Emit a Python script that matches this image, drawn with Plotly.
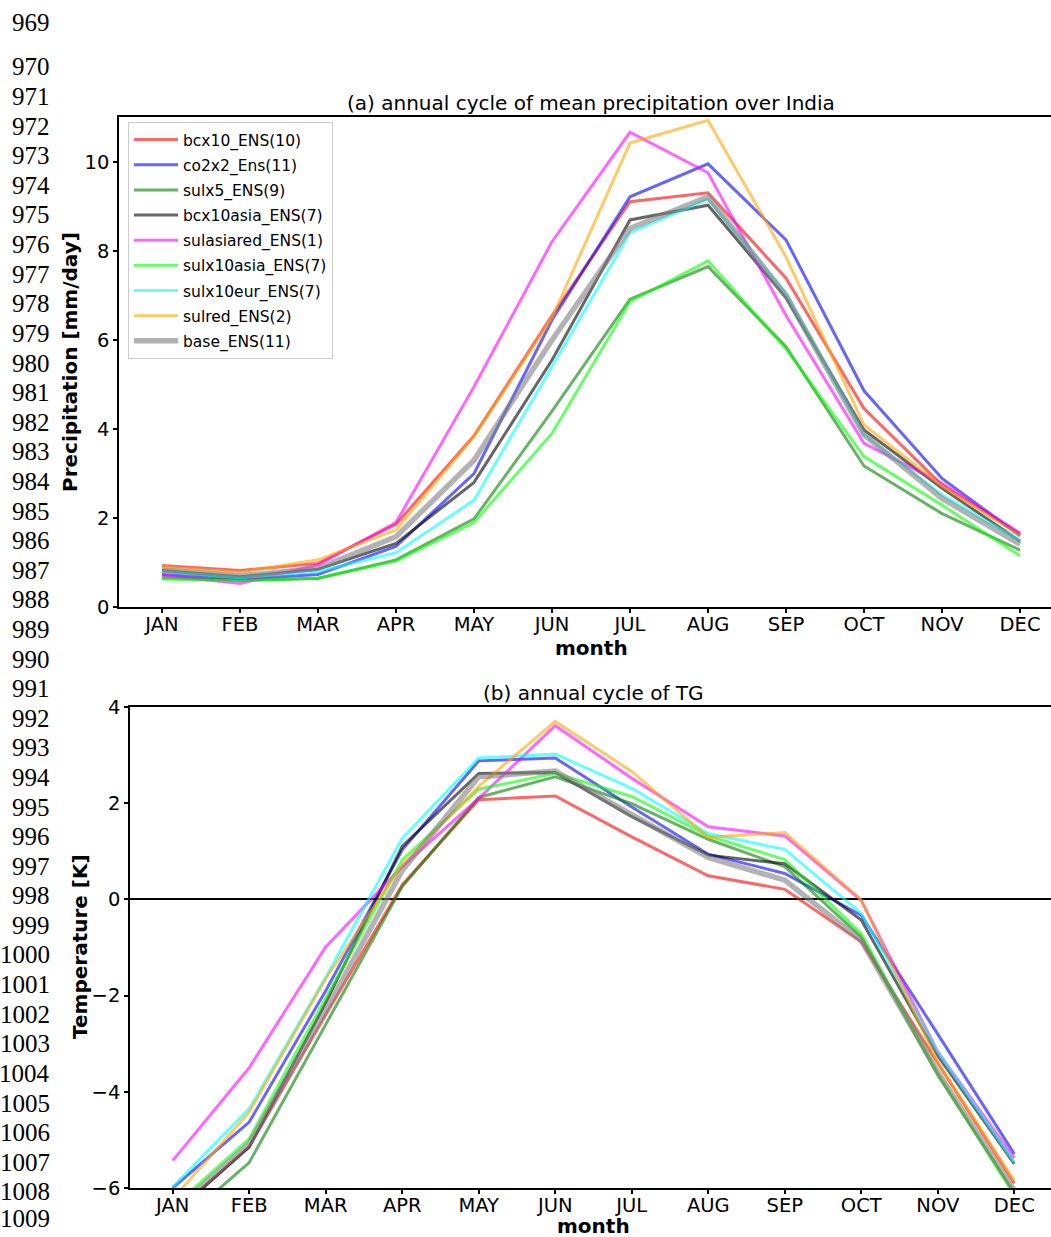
import plotly.graph_objects as go

# ---------------- data ----------------
months = ["JAN", "FEB", "MAR", "APR", "MAY", "JUN", "JUL", "AUG", "SEP", "OCT", "NOV", "DEC"]
month_idx = list(range(12))

names = ["bcx10_ENS(10)", "co2x2_Ens(11)", "sulx5_ENS(9)", "bcx10asia_ENS(7)",
         "sulasiared_ENS(1)", "sulx10asia_ENS(7)", "sulx10eur_ENS(7)", "sulred_ENS(2)", "base_ENS(11)"]

# (a) precipitation [mm/day]
pr_bcx10 = [0.93, 0.82, 0.98, 1.86, 3.85, 6.55, 9.11, 9.31, 7.39, 4.46, 2.74, 1.64]
pr_co2x2 = [0.73, 0.63, 0.73, 1.36, 3.00, 6.45, 9.22, 9.96, 8.25, 4.86, 2.89, 1.60]
pr_sulx5 = [0.66, 0.60, 0.64, 1.06, 1.98, 4.40, 6.92, 7.65, 5.85, 3.17, 2.10, 1.28]
pr_bcx10asia = [0.82, 0.68, 0.85, 1.43, 2.80, 5.55, 8.70, 9.03, 6.95, 3.98, 2.67, 1.48]
pr_sulasiared = [0.72, 0.53, 0.95, 1.90, 4.95, 8.21, 10.67, 9.76, 6.55, 3.68, 2.78, 1.66]
pr_sulx10asia = [0.63, 0.59, 0.65, 1.03, 1.90, 3.90, 6.86, 7.78, 5.80, 3.38, 2.29, 1.15]
pr_sulx10eur = [0.80, 0.66, 0.80, 1.22, 2.40, 5.40, 8.41, 9.17, 7.05, 3.87, 2.52, 1.49]
pr_sulred = [0.90, 0.78, 1.06, 1.73, 3.83, 6.50, 10.43, 10.94, 7.87, 4.09, 2.72, 1.60]
pr_base = [0.83, 0.70, 0.87, 1.58, 3.30, 6.00, 8.51, 9.22, 7.00, 3.87, 2.44, 1.41]

# (b) temperature TG [K]
tg_bcx10 = [-6.55, -5.14, -2.40, 0.30, 2.07, 2.15, 1.30, 0.49, 0.21, -0.88, -3.40, -5.90]
tg_co2x2 = [-6.00, -4.63, -1.90, 1.03, 2.88, 2.94, 1.92, 0.94, 0.54, -0.33, -2.80, -5.29]
tg_sulx5 = [-6.86, -5.47, -2.60, 0.27, 2.12, 2.55, 1.99, 1.25, 0.68, -0.78, -3.65, -6.10]
tg_bcx10asia = [-6.55, -5.15, -2.15, 1.10, 2.62, 2.64, 1.72, 0.92, 0.74, -0.43, -3.25, -5.50]
tg_sulasiared = [-5.43, -3.50, -0.99, 0.68, 2.10, 3.61, 2.52, 1.51, 1.32, -0.02, -3.17, -5.38]
tg_sulx10asia = [-6.40, -4.98, -2.05, 0.82, 2.29, 2.62, 2.14, 1.32, 0.83, -0.71, -3.62, -6.15]
tg_sulx10eur = [-5.98, -4.35, -1.62, 1.27, 2.94, 3.02, 2.31, 1.37, 1.04, -0.29, -3.17, -5.47]
tg_sulred = [-6.23, -4.42, -1.65, 0.72, 2.35, 3.70, 2.66, 1.29, 1.39, -0.01, -3.38, -5.85]
tg_base = [-6.50, -5.08, -2.31, 0.60, 2.55, 2.67, 1.76, 0.87, 0.40, -0.85, -3.59, -6.05]

pr_series = [pr_bcx10, pr_co2x2, pr_sulx5, pr_bcx10asia, pr_sulasiared,
             pr_sulx10asia, pr_sulx10eur, pr_sulred, pr_base]
tg_series = [tg_bcx10, tg_co2x2, tg_sulx5, tg_bcx10asia, tg_sulasiared,
             tg_sulx10asia, tg_sulx10eur, tg_sulred, tg_base]

pr_ticks = [0, 2, 4, 6, 8, 10]
tg_ticks = [-6, -4, -2, 0, 2, 4]

line_numbers = list(range(969, 1010))

# ---------------- style ----------------
colors = ["rgba(255,0,0,0.6)", "rgba(0,0,255,0.6)", "rgba(0,128,0,0.6)", "rgba(0,0,0,0.6)",
          "rgba(255,0,255,0.6)", "rgba(0,255,0,0.6)", "rgba(0,255,255,0.6)",
          "rgba(255,165,0,0.6)", "rgba(128,128,128,0.6)"]
widths = [3, 3, 3, 3, 3, 3, 3, 3, 5.5]

W, H = 1051, 1237
FONT = "DejaVu Sans"
FS = 19.5
TFS = 20

fig = go.Figure()
for i, name in enumerate(names):
    fig.add_trace(go.Scatter(x=month_idx, y=pr_series[i], mode="lines", name=name,
                             line=dict(color=colors[i], width=widths[i]),
                             legendgroup=name, xaxis="x", yaxis="y"))
for i, name in enumerate(names):
    fig.add_trace(go.Scatter(x=month_idx, y=tg_series[i], mode="lines", name=name,
                             line=dict(color=colors[i], width=widths[i]),
                             legendgroup=name, showlegend=False, xaxis="x2", yaxis="y2"))

def px_x(p):
    return p / W

def px_y(p):
    return 1 - p / H

axis_common = dict(showgrid=False, showline=True, linecolor="black", linewidth=1.5,
                   ticks="outside", ticklen=4, tickwidth=1.5, tickcolor="black",
                   automargin=False,
                   tickfont=dict(family=FONT, size=FS, color="black"), zeroline=False)

# panel geometry (pixels)
a_left, a_top, a_bottom = 119, 116.7, 607
b_left, b_top, b_bottom = 130, 707, 1188

fig.update_layout(
    template="none",
    width=W, height=H, margin=dict(l=0, r=0, t=0, b=0, pad=0), autosize=False,
    paper_bgcolor="white", plot_bgcolor="white",
    xaxis=dict(domain=[px_x(a_left), 1], range=[-0.551, 11.397], tickvals=month_idx,
               ticktext=months, mirror=True, anchor="y", ticklabelstandoff=-5, **axis_common),
    yaxis=dict(domain=[px_y(a_bottom), px_y(a_top)], range=[0, 11.02], tickvals=pr_ticks,
               anchor="x", **axis_common),
    xaxis2=dict(domain=[px_x(b_left), 1], range=[-0.558, 11.48], tickvals=month_idx,
                ticktext=months, mirror=True, anchor="y2", ticklabelstandoff=-5, **axis_common),
    yaxis2=dict(domain=[px_y(b_bottom), px_y(b_top)], range=[-6, 4], tickvals=tg_ticks,
                anchor="x2", **axis_common),
    legend=dict(x=px_x(128), y=px_y(122), xanchor="left", yanchor="top",
                bgcolor="rgba(255,255,255,0.85)", bordercolor="#cccccc", borderwidth=1,
                font=dict(family=FONT, size=15.5, color="black"), tracegroupgap=2,
                itemwidth=44),
    showlegend=True,
)
fig.layout.yaxis2.zeroline = True
fig.layout.yaxis2.zerolinecolor = "black"
fig.layout.yaxis2.zerolinewidth = 1.5

annotations = []
# titles
annotations.append(dict(text="(a) annual cycle of mean precipitation over India", x=px_x(591),
                        y=px_y(103), xref="paper", yref="paper", showarrow=False,
                        xanchor="center", yanchor="middle",
                        font=dict(family=FONT, size=TFS, color="black")))
annotations.append(dict(text="(b) annual cycle of TG", x=px_x(593), y=px_y(693),
                        xref="paper", yref="paper", showarrow=False,
                        xanchor="center", yanchor="middle",
                        font=dict(family=FONT, size=TFS, color="black")))
# axis labels
annotations.append(dict(text="<b>month</b>", x=px_x(591), y=px_y(648), xref="paper", yref="paper",
                        showarrow=False, xanchor="center", yanchor="middle",
                        font=dict(family=FONT, size=TFS, color="black")))
annotations.append(dict(text="<b>month</b>", x=px_x(593), y=px_y(1226), xref="paper", yref="paper",
                        showarrow=False, xanchor="center", yanchor="middle",
                        font=dict(family=FONT, size=TFS, color="black")))
annotations.append(dict(text="<b>Precipitation [mm/day]</b>", x=px_x(70), y=px_y(362),
                        xref="paper", yref="paper", showarrow=False, textangle=-90,
                        xanchor="center", yanchor="middle",
                        font=dict(family=FONT, size=TFS, color="black")))
annotations.append(dict(text="<b>Temperature [K]</b>", x=px_x(80), y=px_y(947),
                        xref="paper", yref="paper", showarrow=False, textangle=-90,
                        xanchor="center", yanchor="middle",
                        font=dict(family=FONT, size=TFS, color="black")))
# manuscript line numbers
for n in line_numbers:
    if n == 969:
        yp = 22
    elif n == 1009:
        yp = 1218
    else:
        yp = 67 + (n - 970) * 29.6
    annotations.append(dict(text=str(n), x=px_x(52), y=px_y(yp), xref="paper", yref="paper",
                            showarrow=False, xanchor="right", yanchor="middle",
                            font=dict(family="Liberation Serif", size=25, color="black")))
fig.update_layout(annotations=annotations)

fig.write_html("out.html",
               config={"displayModeBar": False},
               post_script="document.body.style.margin='0';"
                           "document.body.style.overflow='hidden';"
                           "document.documentElement.style.overflow='hidden';")
